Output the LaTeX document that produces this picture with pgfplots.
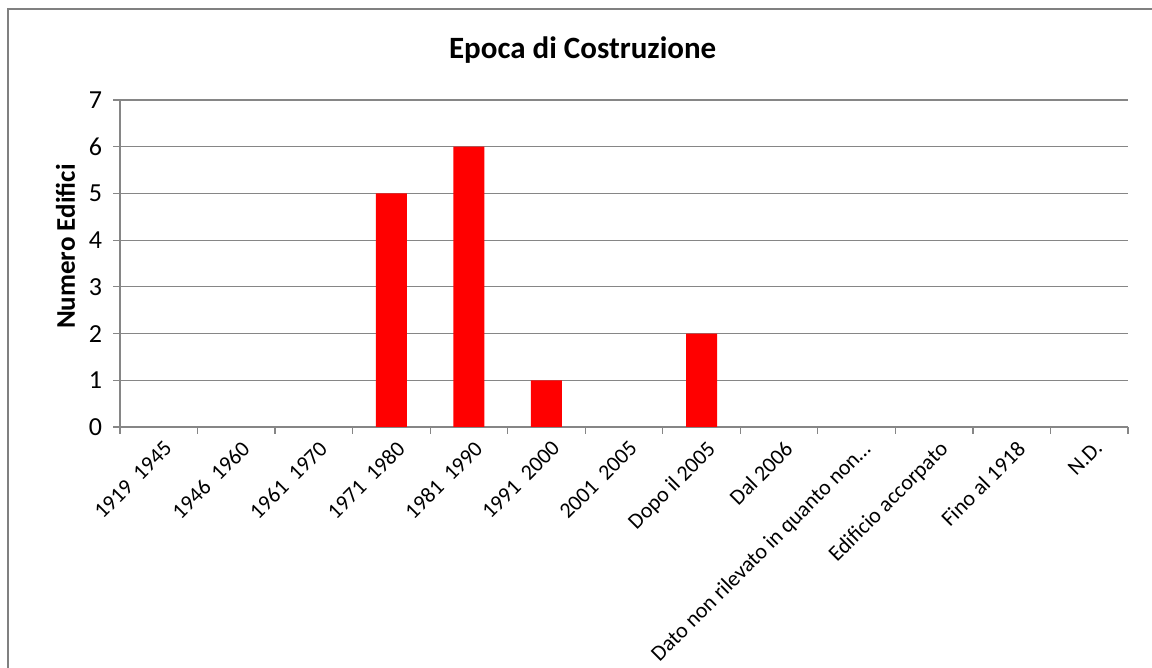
\documentclass[border=0pt]{standalone}
\usepackage{fontspec}
\setmainfont{Carlito}
\usepackage{pgfplots}
\pgfplotsset{compat=1.18}
\definecolor{gridgray}{RGB}{134,134,134}
\definecolor{framegray}{RGB}{128,128,128}
\begin{document}
\begin{tikzpicture}
\useasboundingbox (0,0) rectangle (576pt,334pt);
\clip (0,0) rectangle (576pt,334pt);
\draw[framegray, line width=1pt] (4pt,-10pt) -- (4pt,329.5pt) -- (600pt,329.5pt);
\begin{axis}[
    at={(60pt,120.5pt)}, anchor=south west,
    scale only axis,
    width=504pt, height=163.5pt,
    xmin=-0.5, xmax=12.5,
    ymin=0, ymax=7,
    ytick={0,...,7},
    xtick={-0.5,0.5,...,12.5},
    x tick label as interval,
    xticklabels={1919\ \ 1945, 1946\ \ 1960, 1961\ \ 1970, 1971\ \ 1980,
        1981\ \ 1990, 1991\ \ 2000, 2001\ \ 2005, Dopo il 2005, Dal 2006,
        Dato non rilevato in quanto non…, Edificio accorpato, Fino al 1918, N.D.},
    axis x line*=bottom,
    axis y line*=left,
    axis line style={gridgray, line width=0.6pt},
    tick align=outside,
    major tick length=3.5pt,
    tick style={gridgray, line width=0.6pt},
    ymajorgrids=true,
    grid style={gridgray, line width=0.6pt},
    /pgf/number format/assume math mode=true,
    yticklabel style={font=\fontsize{13}{15}\selectfont, xshift=-2pt},
    xticklabel style={font=\fontsize{11}{13}\selectfont, rotate=45, anchor=north east, xshift=3pt},
    title={\bfseries Epoca di Costruzione},
    title style={at={(0.459,1)}, anchor=center, yshift=19pt, font=\fontsize{15.5}{18}\selectfont},
    ylabel={\bfseries Numero Edifici},
    every axis y label/.style={at={(ticklabel cs:0.57)}, rotate=90, anchor=near ticklabel,
        xshift=-3pt, font=\fontsize{13.5}{16}\selectfont},
    ybar, bar width=0.4,
    unbounded coords=discard,
    y filter/.expression={y==0 ? nan : y},
]
\addplot[fill=red, draw=none] coordinates {
    (0,0) (1,0) (2,0) (3,5) (4,6) (5,1) (6,0) (7,2) (8,0) (9,0) (10,0) (11,0) (12,0)
};
\end{axis}
\end{tikzpicture}
\end{document}
